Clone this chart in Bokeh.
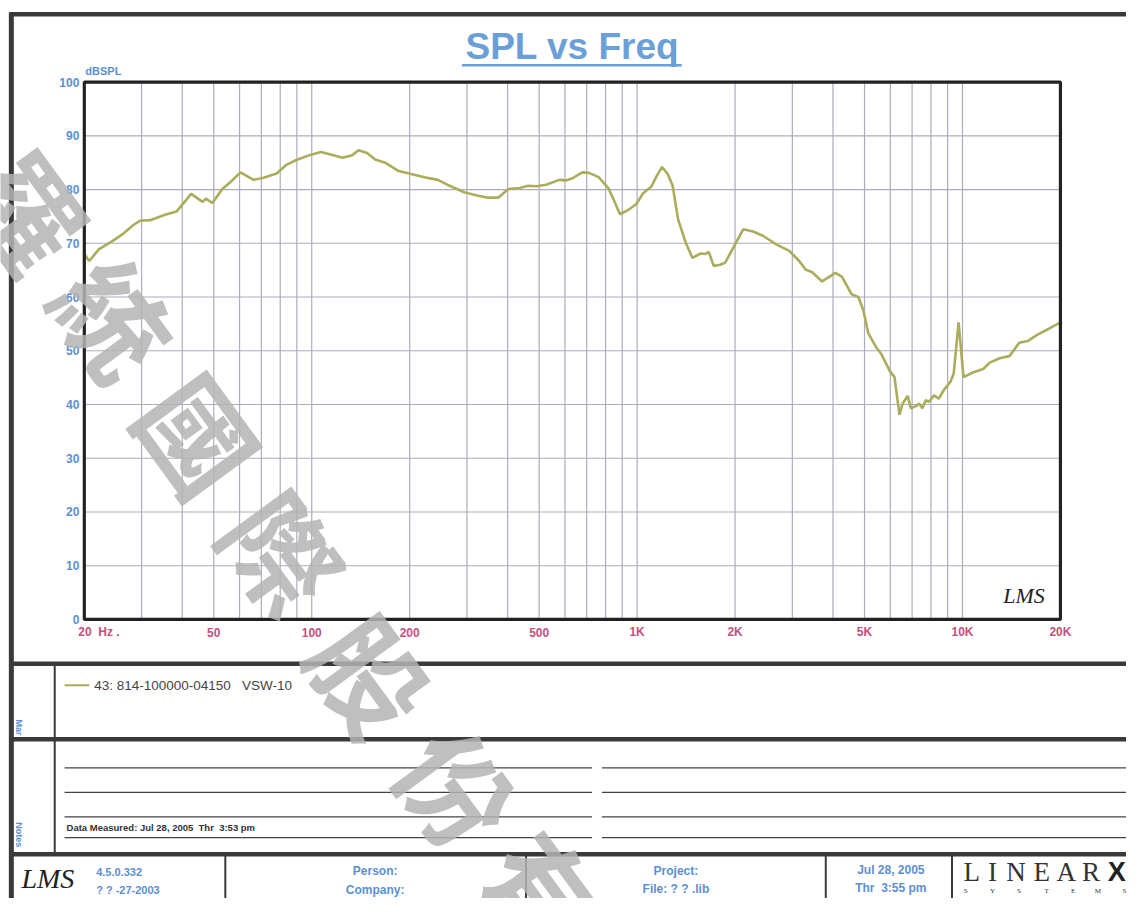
import math
from bokeh.plotting import figure
from bokeh.models import Range1d, LogScale, ColumnDataSource
from bokeh.core.properties import value
from bokeh.embed import file_html
from bokeh.resources import INLINE

# ---------------- data ----------------
freq_hz = [20, 20.7, 22.2, 24.4, 26.1, 28.3, 29.7, 31.9, 35.4, 38.4, 42.6, 46.2, 47.3, 49.5,
           53.1, 56.3, 60.4, 66.3, 71.1, 78.0, 83.6, 89.7, 98.4, 106.7, 114.4, 124.2, 133.2,
           139.4, 147.9, 156.7, 168, 184, 202, 222, 244, 261, 294, 322, 345, 375, 402, 436,
           462, 490, 525, 577, 604, 633, 678, 711, 762, 817, 856, 886, 939, 995, 1043, 1105,
           1144, 1193, 1242, 1286, 1337, 1411, 1479, 1567, 1622, 1660, 1719, 1801, 1865, 1976,
           2119, 2272, 2436, 2676, 2936, 3148, 3298, 3454, 3704, 3882, 4066, 4258, 4566, 4785,
           4954, 5132, 5436, 5630, 5970, 6180, 6402, 6550, 6782, 6940, 7188, 7360, 7532, 7706,
           7892, 8172, 8462, 8762, 9174, 9394, 9728, 10072, 10802, 11580, 12126, 13004, 13940,
           14946, 15856, 17004, 18432, 19762, 20000]
spl_db = [68.0, 66.7, 68.9, 70.4, 71.6, 73.4, 74.2, 74.3, 75.3, 75.9, 79.2, 77.7, 78.3, 77.5,
          80.1, 81.4, 83.2, 81.8, 82.2, 83.0, 84.6, 85.5, 86.4, 87.0, 86.5, 85.9, 86.4,
          87.3, 86.8, 85.6, 85.0, 83.5, 82.9, 82.3, 81.8, 80.9, 79.5, 78.9, 78.5, 78.5, 80.1, 80.3,
          80.7, 80.6, 80.9, 81.8, 81.7, 82.1, 83.2, 83.1, 82.3, 80.2, 77.5, 75.4, 76.2, 77.3, 79.3, 80.5,
          82.3, 84.2, 82.9, 80.7, 74.4, 70.1, 67.3, 68.1, 68.0, 68.4, 65.8, 66.0, 66.4, 69.2,
          72.6, 72.2, 71.4, 69.8, 68.6, 66.7, 65.1, 64.6, 62.9, 63.7, 64.5, 63.8, 60.5, 60.0,
          57.6, 53.3, 50.6, 49.4, 46.3, 45.1, 38.1, 40.2, 41.6, 39.3, 39.7, 40.2, 39.3, 40.8,
          40.5, 41.7, 41.1, 42.7, 44.2, 45.7, 55.3, 45.1, 46.0, 46.6, 47.8, 48.6, 49.0,
          51.5, 51.8, 53.0, 54.1, 55.1, 55.3]

grid_freqs = [30, 40, 50, 60, 70, 80, 90, 100, 200, 300, 400, 500, 600, 700, 800, 900,
              1000, 2000, 3000, 4000, 5000, 6000, 7000, 8000, 9000, 10000]
grid_db = [10, 20, 30, 40, 50, 60, 70, 80, 90]
y_tick_values = [0, 10, 20, 30, 40, 50, 60, 70, 80, 90, 100]
y_tick_labels = ["0", "10", "20", "30", "40", "50", "60", "70", "80", "90", "100"]
x_tick_values = [50, 100, 200, 500, 1000, 2000, 5000, 10000, 20000]
x_tick_labels = ["50", "100", "200", "500", "1K", "2K", "5K", "10K", "20K"]
NB = "\u00a0"
x_first_label = "20" + NB * 2 + "Hz" + NB + "."
legend_label = "43:" + NB + "814-100000-04150" + NB * 3 + "VSW-10"
title_text = "SPL vs Freq"
y_unit = "dBSPL"
watermark_chars = ["羅", "統", "國", "際", "股", "份", "有"]

F_MIN, F_MAX, DB_MIN, DB_MAX = 20, 20000, 0, 100

# ---------------- layout (reference page coordinates 1142 x 914) ----------------
W, H = 1126, 898
PW, PH = 1142, 914
BOX_L, BOX_R, BOX_T, BOX_B = 85, 1075, 83, 630

p = figure(width=W, height=H, output_backend="svg", toolbar_location=None,
           x_range=Range1d(0, PW), y_range=Range1d(PH, 0),
           x_axis_type=None, y_axis_type=None, min_border=0)
p.grid.visible = False
p.outline_line_color = None
p.background_fill_color = "white"
p.border_fill_color = "white"

ppd = (BOX_R - BOX_L) / math.log10(F_MAX / F_MIN)
fr_start = F_MIN * 10 ** (-BOX_L / ppd)
fr_end = F_MAX * 10 ** ((PW - BOX_R) / ppd)
pdb = (BOX_B - BOX_T) / (DB_MAX - DB_MIN)
db_lo = DB_MIN - (PH - BOX_B) / pdb
db_hi = DB_MAX + BOX_T / pdb
p.extra_x_ranges = {"freq": Range1d(fr_start, fr_end)}
p.extra_x_scales = {"freq": LogScale()}
p.extra_y_ranges = {"db": Range1d(db_lo, db_hi)}

FONT = "Liberation Sans"
BLUE = "#5b8fd4"
PINK = "#c4507c"
DARK = "#333333"
GRID = "#acacbc"
CURVE = "#a9ad5c"


def txt(x, y, s, size, color, bold=False, italic=False, align="left", baseline="middle",
        font=FONT, angle=0.0, xr="default", yr="default", alpha=1.0, xoff=0):
    style = "normal"
    if bold and italic:
        style = "bold italic"
    elif bold:
        style = "bold"
    elif italic:
        style = "italic"
    p.text(x=[x], y=[y], text=[s], text_font=value(font), text_font_size=value(f"{size}px"),
           text_color=color, text_font_style=style, text_align=align, text_baseline=baseline,
           angle=angle, x_range_name=xr, y_range_name=yr, text_alpha=alpha, x_offset=xoff)


def hline(x0, x1, y, w=1.0, c=DARK):
    p.segment(x0=[x0], y0=[y], x1=[x1], y1=[y], line_width=w, line_color=c)


def vline(x, y0, y1, w=1.0, c=DARK):
    p.segment(x0=[x], y0=[y0], x1=[x], y1=[y1], line_width=w, line_color=c)


# ---------------- chart grid ----------------
p.segment(x0=grid_freqs, x1=grid_freqs, y0=[DB_MIN] * len(grid_freqs), y1=[DB_MAX] * len(grid_freqs),
          line_color=GRID, line_width=1.2, x_range_name="freq", y_range_name="db")
p.segment(x0=[F_MIN] * len(grid_db), x1=[F_MAX] * len(grid_db), y0=grid_db, y1=grid_db,
          line_color=GRID, line_width=1.2, x_range_name="freq", y_range_name="db")

# curve
src = ColumnDataSource(dict(f=freq_hz, db=spl_db))
p.line("f", "db", source=src, line_color=CURVE, line_width=2.6, x_range_name="freq", y_range_name="db")

# plot box
p.quad(left=[F_MIN], right=[F_MAX], bottom=[DB_MIN], top=[DB_MAX], fill_color=None,
       line_color="#222222", line_width=3.2, x_range_name="freq", y_range_name="db")

# y tick labels
p.text(x=[80] * len(y_tick_values), y=y_tick_values, text=y_tick_labels, text_font=value(FONT),
       text_font_size=value("12px"), text_font_style="bold", text_color=BLUE, text_align="right",
       text_baseline="middle", y_range_name="db")
txt(86, 72, y_unit, 11, BLUE, bold=True)

# x tick labels
p.text(x=x_tick_values, y=[643] * len(x_tick_values), text=x_tick_labels, text_font=value(FONT),
       text_font_size=value("12px"), text_font_style="bold", text_color=PINK, text_align="center",
       text_baseline="middle", x_range_name="freq")
txt(F_MIN, 643, x_first_label, 12, PINK, bold=True, align="left", xr="freq", xoff=-6)

# LMS mark in chart
txt(1038, 606, "LMS", 22, "#222222", italic=True, align="center", font="Liberation Serif")

# title
txt(580, 47, title_text, 37, "#6a9fd8", bold=True, align="center")
hline(468, 691, 66, w=2.5, c="#6a9fd8")

# ---------------- page frame ----------------
FR = "#3a3a3a"
hline(10, 1142, 14, w=4.5, c=FR)
vline(11, 12, 914, w=5, c=FR)
hline(10, 1142, 675, w=4.5, c=FR)
hline(10, 1142, 752, w=4.5, c=FR)
hline(10, 1142, 869, w=4.5, c=FR)
vline(55, 675, 869, w=2, c=FR)

# legend
hline(65, 90, 697, w=2, c=CURVE)
txt(95, 697, legend_label, 13.5, "#444444")
txt(19, 740, "Mar", 9, BLUE, bold=True, angle=-math.pi / 2, align="center")
txt(19, 849, "Notes", 9, BLUE, bold=True, angle=-math.pi / 2, align="center")

# notes lines
for yy in [781, 806, 831, 852]:
    hline(65, 600, yy, w=1.3, c="#444444")
    hline(610, 1142, yy, w=1.3, c="#444444")
txt(67, 847, "Data Measured: Jul 28, 2005" + NB * 2 + "Thr" + NB * 2 + "3:53 pm", 9.5, "#333333",
    bold=True, baseline="bottom")

# footer
for xx in [228, 533, 837, 965]:
    vline(xx, 869, 914, w=2, c=FR)
txt(48, 894, "LMS", 28, "#222222", italic=True, align="center", font="Liberation Serif")
txt(97, 887, "4.5.0.332", 11, BLUE, bold=True)
txt(97, 905, "?" + NB + "?" + NB + "-27-2003", 11, BLUE, bold=True)
txt(380, 886, "Person:", 12, BLUE, bold=True, align="center")
txt(380, 905, "Company:", 12, BLUE, bold=True, align="center")
txt(685, 886, "Project:", 12, BLUE, bold=True, align="center")
txt(685, 904, "File:" + NB + "?" + NB + "?" + NB + ".lib", 12, BLUE, bold=True, align="center")
txt(903, 885, "Jul 28, 2005", 12, BLUE, bold=True, align="center")
txt(903, 903, "Thr" + NB * 2 + "3:55 pm", 12, BLUE, bold=True, align="center")

lin_letters = ["L", "I", "N", "E", "A", "R"]
lin_x = [985, 1006, 1030, 1056, 1081, 1106]
for ch, xx in zip(lin_letters, lin_x):
    txt(xx, 887, ch, 27, "#333333", align="center", font="Liberation Serif")
txt(1132, 887, "X", 27, "#222222", bold=True, align="center", font="Liberation Sans")
sys_letters = ["S", "Y", "S", "T", "E", "M", "S"]
sys_x = [979, 1006, 1033, 1061, 1088, 1113, 1140]
for ch, xx in zip(sys_letters, sys_x):
    txt(xx, 906, ch, 7, "#333333", align="center", font="Liberation Serif")

# watermark
wm_x = [30, 118, 204, 290, 378, 466, 554]
wm_y = [212, 322, 440, 560, 685, 800, 905]
p.text(x=wm_x, y=wm_y, text=watermark_chars, text_font=value("Noto Sans CJK TC"),
       text_font_size=value("112px"), text_font_style="bold", text_color="#b4b4b4", text_alpha=0.85,
       text_align="center", text_baseline="middle", angle=-0.94)

open("out.html", "w").write(file_html(p, INLINE))
